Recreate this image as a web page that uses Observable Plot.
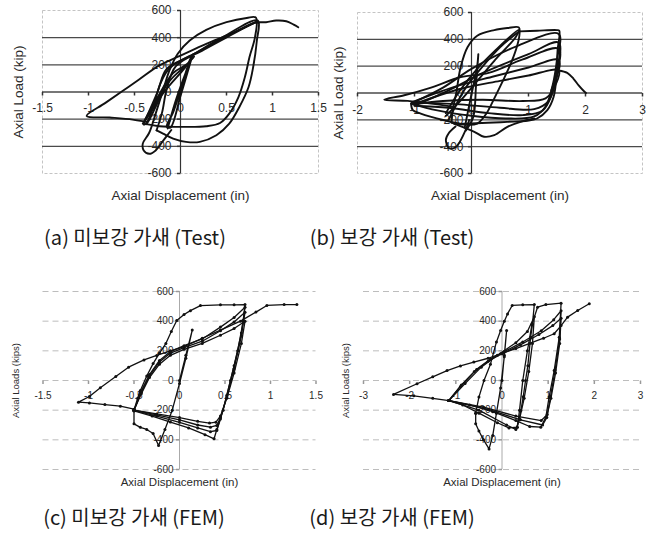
<!DOCTYPE html>
<html><head><meta charset="utf-8">
<script src="https://cdn.jsdelivr.net/npm/d3@7"></script>
<script src="https://cdn.jsdelivr.net/npm/@observablehq/plot@0.6"></script>
<style>
body{margin:0;background:#fff;}
#wrap{position:relative;width:653px;height:551px;overflow:hidden;background:#fff;}
.panel{position:absolute;}
.panel svg{overflow:visible;}
.cap{position:absolute;font-family:"Noto Sans CJK KR",sans-serif;font-size:20px;color:#1a1a1a;white-space:nowrap;transform:translate(-50%,-50%);}
</style></head>
<body><div id="wrap"></div>
<script>
// ---- tick labels / titles ----
const xTicksA = [-1.5,-1,-0.5,0,0.5,1,1.5];
const xTicksB = [-2,-1,0,1,2,3];
const xTicksC = [-1.5,-1,-0.5,0,0.5,1,1.5];
const xTicksD = [-3,-2,-1,0,1,2,3];
const yTicks = [600,400,200,0,-200,-400,-600];
const captions = ["(a) 미보강 가새 (Test)","(b) 보강 가새 (Test)","(c) 미보강 가새 (FEM)","(d) 보강 가새 (FEM)"];
const yTitleTest = "Axial Load (kip)";
const yTitleFem = "Axial Loads (kips)";
const xTitle = "Axial Displacement (in)";

// ---- (a) unreinforced brace, test: [displacement in, load kip] ----
const aMono = [[-0.37,-220],[-0.52,-203],[-0.77,-188],[-1.02,-176],[-0.82,-82],[-0.63,7],[-0.45,92],[-0.23,196],[0.0,268],[0.28,355],[0.55,430],[0.81,510],[0.93,514],[1.04,526],[1.15,521],[1.23,496],[1.28,477]];
const aLoopBig = [[-0.10,-280],[-0.19,-360],[-0.27,-430],[-0.34,-455],[-0.40,-430],[-0.41,-380],[-0.34,-300],[-0.27,-159],[-0.19,12],[-0.12,159],[-0.03,282],[0.10,379],[0.28,457],[0.50,514],[0.72,545],[0.82,548],[0.81,404],[0.75,257],[0.70,110],[0.63,-37],[0.53,-159],[0.43,-228],[0.28,-252],[0.06,-257],[-0.23,-252],[-0.37,-237]];
const aLoopLow = [[-0.40,-232],[-0.25,0],[-0.15,170],[0.10,262],[0.45,400],[0.84,526],[0.83,379],[0.79,184],[0.74,37],[0.64,-110],[0.53,-233],[0.39,-318],[0.21,-367],[0.06,-367],[-0.08,-343],[-0.19,-306],[-0.26,-282]];
const aBand1 = [[-0.14,-269],[-0.05,-60],[0.05,130],[0.14,280],[0.11,250],[0.02,60],[-0.08,-150],[-0.15,-255],[-0.11,-262],[0.0,-30],[0.13,270]];
const aBand2 = [[-0.41,-233],[-0.25,-40],[-0.08,140],[0.06,200],[0.15,262],[0.08,210],[-0.12,80],[-0.30,-120],[-0.40,-240],[-0.36,-225],[-0.20,-20],[0.05,180],[0.13,255]];
const aReload1 = [[-0.37,-237],[-0.30,-120],[-0.22,60],[-0.12,175],[0.20,300],[0.50,410],[0.82,515]];
const aReload2 = [[-0.26,-282],[-0.20,-150],[-0.15,20],[-0.05,190],[0.25,310],[0.55,420],[0.83,520]];

// ---- (b) reinforced brace, test ----
const bEnv1 = [[-0.35,-220],[-0.33,-128],[-0.27,-5],[-0.19,193],[-0.07,341],[0.10,427],[0.40,469],[0.63,484],[0.83,489],[0.84,430],[0.80,350],[0.70,230],[0.55,90],[0.40,-40],[0.25,-160],[0.10,-228],[-0.10,-236],[-0.35,-222]];
const bDiag1 = [[-0.45,-150],[-0.20,20],[0.10,180],[0.40,310],[0.83,470],[0.78,420],[0.40,240],[0.10,90],[-0.20,-60],[-0.45,-170]];
const bDiag2 = [[-0.40,-200],[-0.10,40],[0.20,200],[0.50,340],[0.82,455]];
const bEnv2 = [[0.84,459],[1.15,464],[1.50,469],[1.54,464],[1.51,316],[1.49,119],[1.44,-30],[1.33,-128],[1.15,-190],[0.98,-207],[0.63,-215],[0.28,-222],[-0.01,-227],[-0.30,-230]];
const bFan1 = [[-1.06,-79],[-0.50,40],[0.00,180],[0.80,350],[1.53,440],[1.50,250],[1.42,50],[1.30,-100],[1.10,-175],[0.60,-190],[0.00,-170],[-0.60,-130],[-1.06,-79]];
const bFan2 = [[-1.00,-95],[-0.40,20],[0.20,150],[1.00,290],[1.53,375],[1.49,150],[1.40,-20],[1.25,-130],[0.90,-165],[0.30,-150],[-0.40,-110],[-1.00,-95]];
const bFan3 = [[-1.05,-70],[-0.30,45],[0.40,125],[1.00,190],[1.53,245],[1.47,80],[1.35,-60],[1.10,-120],[0.50,-110],[-0.20,-85],[-1.05,-70]];
const bFan4 = [[-1.02,-85],[-0.20,30],[0.50,90],[1.00,130],[1.53,168],[1.45,40],[1.30,-40],[0.90,-60],[0.20,-50],[-0.50,-60],[-1.02,-85]];
const bFan5 = [[-0.30,-104],[-0.71,-79],[-1.12,-59],[-1.53,-49],[-1.18,-17],[-0.71,40],[-0.19,119],[0.30,150],[0.90,250],[1.53,330],[1.50,150],[1.40,20]];
const bTail = [[1.53,168],[1.68,150],[1.79,106],[1.88,57],[1.97,15],[2.01,0]];
const bLower = [[-0.30,-230],[0.05,-289],[0.22,-326],[0.40,-314],[0.63,-252],[0.86,-215],[1.10,-190]];
const bSmall = [[-0.04,-203],[-0.13,-301],[-0.27,-400],[-0.39,-412],[-0.45,-351],[-0.40,-300],[-0.28,-250]];
const bSpike = [[-0.10,-280],[0.03,-180],[0.08,60],[0.12,290],[0.10,200],[-0.02,-50],[-0.12,-260]];
const bLeftLoop = [[-1.06,-79],[-1.03,-128],[-0.89,-153],[-0.48,-203],[-0.20,-230]];

// ---- (c) unreinforced brace, FEM ----
const cMono = [[-0.50,-193],[-0.65,-173],[-0.82,-162],[-0.99,-151],[-1.11,-146],[-0.99,-108],[-0.87,-49],[-0.70,27],[-0.56,90],[-0.39,139],[-0.25,169],[-0.10,200],[0.05,228],[0.25,285],[0.45,340],[0.67,400],[0.84,461],[0.96,506],[1.15,512],[1.29,512]];
const cFirst = [[0,0],[0.07,170],[0.14,340],[0.07,150],[0.00,-20],[-0.08,-200],[-0.16,-330],[-0.23,-438],[-0.29,-357],[-0.36,-330],[-0.43,-316],[-0.50,-292],[-0.50,-200]];
const cEnv = [[-0.50,-200],[-0.46,-120],[-0.43,-67],[-0.36,30],[-0.29,114],[-0.22,185],[-0.15,249],[-0.09,330],[-0.03,404],[0.05,445],[0.12,471],[0.23,505],[0.45,510],[0.60,510],[0.72,512],[0.70,400],[0.64,200],[0.56,0],[0.48,-200],[0.41,-330],[0.38,-393],[0.28,-365],[0.10,-320],[-0.10,-280],[-0.30,-240],[-0.50,-205]];
const cCyc1 = [[-0.50,-200],[-0.42,-90],[-0.33,20],[-0.22,110],[-0.10,170],[0.05,210],[0.25,250],[0.45,305],[0.60,350],[0.72,400],[0.68,250],[0.60,50],[0.52,-120],[0.45,-240],[0.40,-281],[0.33,-287],[0.20,-275],[0.00,-250],[-0.25,-225],[-0.50,-200]];
const cCyc2 = [[-0.50,-200],[-0.42,-80],[-0.33,30],[-0.22,125],[-0.10,185],[0.05,222],[0.25,265],[0.45,335],[0.60,395],[0.72,460],[0.68,300],[0.60,80],[0.52,-110],[0.45,-250],[0.41,-303],[0.34,-315],[0.20,-300],[0.00,-265],[-0.25,-232],[-0.50,-200]];
const cCyc3 = [[-0.50,-200],[-0.42,-70],[-0.33,40],[-0.22,135],[-0.10,195],[0.05,235],[0.25,280],[0.45,360],[0.60,425],[0.72,494],[0.68,320],[0.60,100],[0.52,-100],[0.45,-260],[0.41,-337],[0.34,-345],[0.20,-320],[0.00,-282],[-0.25,-240],[-0.50,-202]];

// ---- (d) reinforced brace, FEM ----
const dMono = [[-1.15,-135],[-1.50,-120],[-1.91,-103],[-2.35,-94],[-1.84,-22],[-1.50,25],[-1.19,67],[-0.90,98],[-0.61,124],[-0.30,150],[-0.03,180],[0.30,215],[0.60,250],[0.90,285],[1.13,315],[1.28,370],[1.42,427],[1.64,472],[1.89,517]];
const dFirst = [[0,0],[0.05,170],[0.10,337],[0.05,160],[-0.03,-50],[-0.12,-220],[-0.20,-370],[-0.28,-461],[-0.40,-400],[-0.50,-340],[-0.57,-292],[-0.57,-220]];
const dEnv1 = [[-0.57,-220],[-0.50,-112],[-0.39,0],[-0.25,110],[-0.12,260],[-0.03,337],[0.05,400],[0.12,449],[0.22,506],[0.45,510],[0.70,512],[0.66,380],[0.62,292],[0.56,100],[0.51,0],[0.46,-110],[0.41,-202],[0.33,-315],[0.15,-320],[-0.10,-285],[-0.50,-220],[-0.85,-165],[-1.15,-135]];
const dEnv2 = [[0.33,-315],[0.38,-200],[0.45,0],[0.55,200],[0.65,380],[0.77,494],[0.95,512],[1.28,521],[1.24,292],[1.13,67],[1.02,-112],[0.95,-247],[0.84,-315],[0.60,-310],[0.30,-270],[-0.20,-210],[-0.70,-165],[-1.15,-135]];
const dCyc1 = [[-1.15,-135],[-0.90,-40],[-0.60,60],[-0.30,130],[0.00,180],[0.40,240],[0.80,310],[1.10,370],[1.28,420],[1.25,250],[1.16,50],[1.06,-120],[0.98,-230],[0.85,-270],[0.30,-240],[-0.40,-180],[-1.15,-135]];
const dCyc2 = [[-1.15,-135],[-0.88,-30],[-0.55,75],[-0.25,145],[0.05,195],[0.45,260],[0.85,335],[1.12,410],[1.28,470],[1.25,280],[1.15,70],[1.05,-110],[0.97,-250],[0.88,-300],[0.40,-265],[-0.30,-195],[-1.15,-135]];
const dCyc3 = [[-1.15,-135],[-0.80,-20],[-0.45,90],[-0.10,170],[0.30,255],[0.55,330],[0.70,430],[0.66,250],[0.58,60],[0.48,-120],[0.38,-260],[0.30,-330],[0.10,-300],[-0.50,-200],[-1.15,-135]];

// ---- drawing ----
const tickLeft = {draw(ctx, size){ const l = Math.sqrt(size/Math.PI); ctx.moveTo(0,0); ctx.lineTo(-l,0); }};
const tickDown = {draw(ctx, size){ const l = Math.sqrt(size/Math.PI); ctx.moveTo(0,0); ctx.lineTo(0,l); }};

function toRows(curves){
  const rows = [];
  curves.forEach((c, i) => c.forEach(([x, y]) => rows.push({id: i, x, y})));
  return rows;
}

function makePanel(cfg){
  const rows = toRows(cfg.curves);
  const fem = cfg.fem;
  const marks = [];
  if (fem) {
    marks.push(Plot.ruleY(yTicks, {y: d => d, stroke: "#bdbdbd", strokeWidth: 1, strokeDasharray: "6,4"}));
    marks.push(Plot.ruleX([0], {x: d => d, stroke: "#aaa", strokeWidth: 1}));
  } else {
    marks.push(Plot.frame({stroke: "#c4c4c4", strokeDasharray: "3,2"}));
    marks.push(Plot.ruleY(yTicks.filter(v => Math.abs(v) < 600), {y: d => d, stroke: "#4a4a4a", strokeWidth: 1.4}));
    marks.push(Plot.ruleX([0], {x: d => d, stroke: "#333", strokeWidth: 1.2}));
  }
  const tc = fem ? "#999" : "#333";
  marks.push(Plot.dot(yTicks, {x: () => 0, y: d => d, symbol: tickLeft, r: 3.5, stroke: tc, fill: "none"}));
  marks.push(Plot.dot(cfg.xTicks, {x: d => d, y: () => 0, symbol: tickDown, r: 3.5, stroke: tc, fill: "none"}));
  marks.push(Plot.text(cfg.xTicks, {x: d => d, y: () => 0, dy: cfg.xLabelDy, text: d => String(d), fontSize: cfg.tickFs, fill: "#2a2a2a"}));
  marks.push(Plot.text(yTicks, {x: () => 0, y: d => d, dx: cfg.yLabelDx, textAnchor: "end", text: d => String(d), fontSize: cfg.tickFs, fill: "#2a2a2a"}));
  marks.push(Plot.line(rows, {x: "x", y: "y", z: "id", stroke: "#111", strokeWidth: fem ? 1.3 : 1.9, curve: fem ? "linear" : "catmull-rom", strokeLinejoin: "round"}));
  if (fem) marks.push(Plot.dot(rows, {x: "x", y: "y", r: 1.5, fill: "#111", stroke: "none"}));
  marks.push(Plot.text([cfg.yTitle], {frameAnchor: "left", dx: cfg.yTitleDx, rotate: -90, textAnchor: "middle", text: d => d, fontSize: cfg.yTitleFs, fill: "#2a2a2a"}));
  marks.push(Plot.text([xTitle], {frameAnchor: "bottom", dy: cfg.xTitleDy, textAnchor: "middle", text: d => d, fontSize: cfg.xTitleFs, fill: "#2a2a2a"}));
  const svg = Plot.plot({
    width: cfg.width, height: cfg.height,
    marginLeft: cfg.mL, marginRight: cfg.mR, marginTop: cfg.mT, marginBottom: cfg.mB,
    x: {domain: cfg.xDomain, axis: null},
    y: {domain: [-600, 600], axis: null},
    style: {fontFamily: "'Liberation Sans', Arial, sans-serif", background: "transparent", overflow: "visible"},
    marks
  });
  const div = document.createElement("div");
  div.className = "panel";
  div.style.left = cfg.left + "px";
  div.style.top = cfg.top + "px";
  div.appendChild(svg);
  document.getElementById("wrap").appendChild(div);
}

const testFont = {tickFs: 12, yTitleFs: 13.5, xTitleFs: 13.5};
const femFont = {tickFs: 10, yTitleFs: 9.5, xTitleFs: 11.5};

makePanel({...testFont, left: 0, top: 0, width: 326, height: 212, mL: 42, mR: 8, mT: 10, mB: 39,
  xDomain: [-1.5, 1.5], xTicks: xTicksA, fem: false, yTitle: yTitleTest, yTitleDx: -24, xTitleDy: 26, xLabelDy: 16, yLabelDx: -9,
  curves: [aMono, aLoopBig, aLoopLow, aBand1, aBand2, aReload1, aReload2]});
makePanel({...testFont, left: 326, top: 0, width: 327, height: 212, mL: 31, mR: 11, mT: 12, mB: 39,
  xDomain: [-2, 3], xTicks: xTicksB, fem: false, yTitle: yTitleTest, yTitleDx: -19, xTitleDy: 26, xLabelDy: 17, yLabelDx: -8,
  curves: [bEnv1, bDiag1, bDiag2, bEnv2, bFan1, bFan2, bFan3, bFan4, bFan5, bTail, bLower, bSmall, bSpike, bLeftLoop]});
makePanel({...femFont, left: 0, top: 280, width: 326, height: 212, mL: 42.5, mR: 10.5, mT: 11, mB: 23,
  xDomain: [-1.5, 1.5], xTicks: xTicksC, fem: true, yTitle: yTitleFem, yTitleDx: -27.5, xTitleDy: 16, xLabelDy: 15, yLabelDx: -6,
  curves: [cMono, cFirst, cEnv, cCyc1, cCyc2, cCyc3]});
makePanel({...femFont, left: 326, top: 280, width: 327, height: 212, mL: 37, mR: 13, mT: 11, mB: 23,
  xDomain: [-3, 3], xTicks: xTicksD, fem: true, yTitle: yTitleFem, yTitleDx: -18, xTitleDy: 16, xLabelDy: 15, yLabelDx: -6,
  curves: [dMono, dFirst, dEnv1, dEnv2, dCyc1, dCyc2, dCyc3]});

const capPos = [[135, 236], [392, 236], [134, 516], [392, 516]];
captions.forEach((t, i) => {
  const d = document.createElement("div");
  d.className = "cap";
  d.textContent = t;
  d.style.left = capPos[i][0] + "px";
  d.style.top = capPos[i][1] + "px";
  document.getElementById("wrap").appendChild(d);
});
</script>
</body></html>
